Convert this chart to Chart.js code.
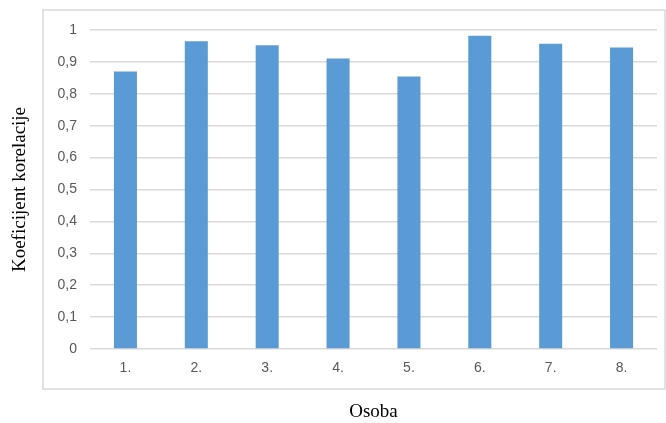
<!DOCTYPE html>
<html>
<head>
<meta charset="utf-8">
<script src="https://cdn.jsdelivr.net/npm/chart.js@4/dist/chart.umd.min.js"></script>
<style>
  html, body { margin: 0; padding: 0; background: #fff; }
  #wrap { width: 666px; height: 423px; position: relative; }
</style>
</head>
<body>
<div id="wrap"><canvas id="chart"></canvas></div>
<script>
// data
const categories = ['1.', '2.', '3.', '4.', '5.', '6.', '7.', '8.']
const correlation = [0.870, 0.965, 0.952, 0.911, 0.854, 0.982, 0.957, 0.945]
const yTickLabels = ['0', '0,1', '0,2', '0,3', '0,4', '0,5', '0,6', '0,7', '0,8', '0,9', '1']

const gridColor = '#d9d9d9'
const tickColor = '#595959'

// light gray frame around plot + tick labels (titles sit outside it)
const framePlugin = {
    id: 'frame',
    beforeDraw(chart) {
        const { ctx, chartArea } = chart
        ctx.save()
        ctx.strokeStyle = gridColor
        ctx.lineWidth = 1.5
        const l = chartArea.left - 47
        const t = chartArea.top - 20
        const r = chartArea.right + 8
        const b = chartArea.bottom + 40
        ctx.strokeRect(l, t, r - l, b - t)
        ctx.restore()
    }
}

new Chart(document.getElementById('chart'), {
    type: 'bar',
    data: {
        labels: categories,
        datasets: [{
            label: 'Koeficijent korelacije',
            data: correlation,
            backgroundColor: '#5b9bd5',
            borderWidth: 0,
            barPercentage: 0.325,
            categoryPercentage: 1
        }]
    },
    options: {
        responsive: true,
        maintainAspectRatio: false,
        animation: false,
        layout: { padding: { top: 30, right: 9, left: 0, bottom: 0 } },
        plugins: {
            legend: { display: false },
            tooltip: { enabled: false }
        },
        scales: {
            x: {
                grid: { display: false, drawTicks: false },
                border: { display: false },
                ticks: {
                    color: tickColor,
                    padding: 11,
                    font: { family: '"Liberation Sans", Arial, sans-serif', size: 14 }
                },
                title: {
                    display: true,
                    text: 'Osoba',
                    color: '#000',
                    padding: { top: 0, bottom: 0 },
                    font: { family: '"Liberation Serif", "Times New Roman", serif', size: 19 }
                },
                afterFit(scale) { scale.height = 74 }
            },
            y: {
                min: 0,
                max: 1,
                grid: { color: gridColor, lineWidth: 1.5, drawTicks: false },
                border: { display: false },
                ticks: {
                    stepSize: 0.1,
                    color: tickColor,
                    padding: 13,
                    font: { family: '"Liberation Sans", Arial, sans-serif', size: 14 },
                    callback: (v, i) => yTickLabels[i]
                },
                title: {
                    display: true,
                    text: 'Koeficijent korelacije',
                    color: '#000',
                    padding: { top: 9, bottom: 0 },
                    font: { family: '"Liberation Serif", "Times New Roman", serif', size: 19 }
                },
                afterFit(scale) { scale.width = 90 }
            }
        }
    },
    plugins: [framePlugin]
})
</script>
</body>
</html>
